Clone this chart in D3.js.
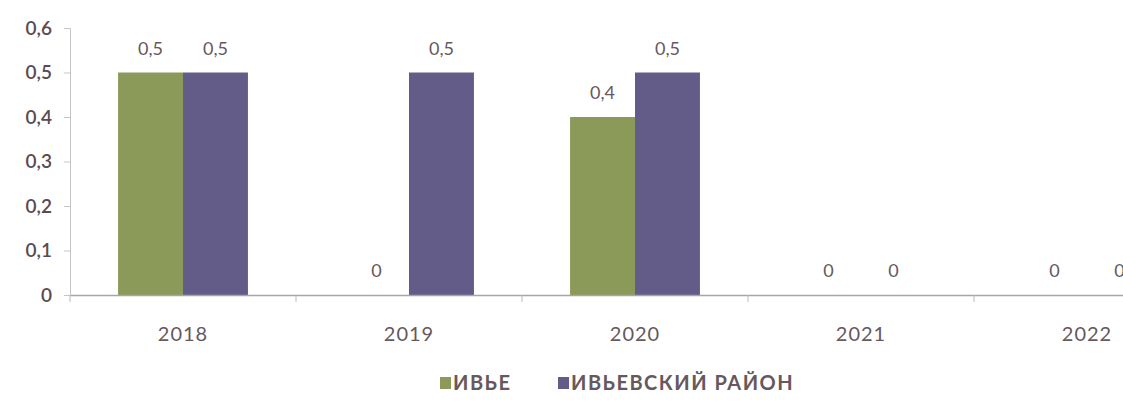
<!DOCTYPE html>
<html>
<head>
<meta charset="utf-8">
<script src="https://cdn.jsdelivr.net/npm/d3@7"></script>
<style>
  body { margin: 0; background: #fff; }
  text { font-family: Lato, "Open Sans", sans-serif; }
</style>
</head>
<body>
<div id="chart"></div>
<script>
var years = ["2018", "2019", "2020", "2021", "2022"];
var seriesNames = ["ИВЬЕ", "ИВЬЕВСКИЙ РАЙОН"];
var iveValues = [0.5, 0, 0.4, 0, 0];
var districtValues = [0.5, 0.5, 0.5, 0, 0];
var yTicks = [0, 0.1, 0.2, 0.3, 0.4, 0.5, 0.6];

var colors = ["#8b9a58", "#635c89"];
var textColor = "#66585d";

var width = 1123;
var height = 402;
var plotLeft = 70, plotBottom = 295, plotTop = 28;
var step = 226;

var svg = d3.select("#chart").append("svg").attr("width", width).attr("height", height);

var x = d3.scaleBand().domain(years).range([plotLeft, plotLeft + step * years.length]);
var xSub = d3.scaleBand().domain(seriesNames).range([0, x.bandwidth()]).paddingOuter(0.74);
var y = d3.scaleLinear().domain([0, 0.6]).range([plotBottom, plotTop]);

var fmt = function(v) { return String(v).replace(".", ","); };

var data = years.map(function(yr, i) {
  return { year: yr, values: [iveValues[i], districtValues[i]] };
});

// y axis
var yAxis = svg.append("g").attr("transform", "translate(" + plotLeft + ",0)")
  .call(d3.axisLeft(y).tickValues(yTicks).tickSize(6).tickPadding(12).tickFormat(fmt));
yAxis.select(".domain").attr("stroke", "#c8c4c6");
yAxis.selectAll(".tick line").attr("stroke", "#c8c4c6");
yAxis.selectAll(".tick text").attr("fill", "#5a4a51").style("font-size", "19px").style("font-weight", "600");

// bars
var groups = svg.selectAll(".yr").data(data).enter().append("g")
  .attr("transform", function(d) { return "translate(" + x(d.year) + ",0)"; });

groups.selectAll("rect").data(function(d) { return d.values; }).enter().append("rect")
  .attr("x", function(d, i) { return xSub(seriesNames[i]); })
  .attr("width", xSub.bandwidth())
  .attr("y", function(d) { return y(d); })
  .attr("height", function(d) { return plotBottom - y(d); })
  .attr("fill", function(d, i) { return colors[i]; });

groups.selectAll(".lbl").data(function(d) { return d.values; }).enter().append("text")
  .attr("x", function(d, i) { return xSub(seriesNames[i]) + xSub.bandwidth() / 2; })
  .attr("y", function(d) { return y(d) - 18; })
  .attr("text-anchor", "middle")
  .attr("fill", textColor)
  .style("font-size", "18px")
  .text(function(d) { return fmt(d); });

// x axis
var xAxis = svg.append("g").attr("transform", "translate(0," + plotBottom + ")")
  .call(d3.axisBottom(x).tickSize(0).tickPadding(32));
xAxis.select(".domain").attr("stroke", "#a9a5a7").attr("stroke-width", 1.5);
xAxis.selectAll(".tick text").attr("fill", textColor)
  .style("font-size", "20px").style("letter-spacing", "1px");

svg.append("g").selectAll("line").data(years).enter().append("line")
  .attr("x1", function(d) { return x(d); })
  .attr("x2", function(d) { return x(d); })
  .attr("y1", plotBottom).attr("y2", plotBottom + 7)
  .attr("stroke", "#bdb9bb");

// legend
var legend = svg.append("g").attr("transform", "translate(440,390)");
var legendX = [0, 118];
seriesNames.forEach(function(name, i) {
  var g = legend.append("g").attr("transform", "translate(" + legendX[i] + ",0)");
  g.append("rect").attr("x", 0).attr("y", -13).attr("width", 11).attr("height", 12).attr("fill", colors[i]);
  g.append("text").attr("x", 13).attr("y", 0)
    .attr("fill", textColor)
    .style("font-size", "20px")
    .style("font-weight", "bold")
    .style("letter-spacing", "1.5px")
    .text(name);
});
</script>
</body>
</html>
